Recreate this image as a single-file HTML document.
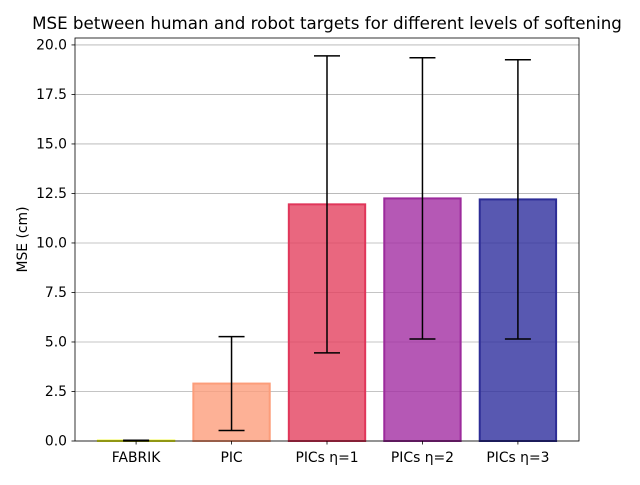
<!DOCTYPE html>
<html><head><meta charset="utf-8"><style>
body{margin:0;background:#fff;font-family:"Liberation Sans","DejaVu Sans",sans-serif}
svg text{font-family:"DejaVu Sans","Liberation Sans",sans-serif}
</style></head><body>
<svg id="c" width="640" height="480" xmlns="http://www.w3.org/2000/svg"></svg>
<script>
const categories=["FABRIK","PIC","PICs η=1","PICs η=2","PICs η=3"];
const means=[0.02,2.9,11.95,12.25,12.2];
const errors=[0.02,2.37,7.5,7.1,7.05];
const yTicks=[0,2.5,5,7.5,10,12.5,15,17.5,20];
const tickLabels=["0.0","2.5","5.0","7.5","10.0","12.5","15.0","17.5","20.0"];
const fills=["#f3f55a","#fd9d7c","#e3415f","#a22ea2","#2e2e9e"];
const edges=["#f0f921","#fc9d7a","#e0365a","#9c2a9c","#2d2d96"];
const L=75,R=579,T=38,B=441,xmin=-0.64,xmax=4.64,ymax=20.35;
const sx=v=>L+(v-xmin)/(xmax-xmin)*(R-L);
const sy=v=>B-v/ymax*(B-T);
const svg=document.getElementById('c');
const NS="http://www.w3.org/2000/svg";
function mk(t,a,p){const e=document.createElementNS(NS,t);for(const k in a)e.setAttribute(k,a[k]);(p||svg).appendChild(e);return e;}
yTicks.forEach((v,i)=>{
 const g=mk('line',{x1:L,x2:R,y1:sy(v),y2:sy(v),stroke:'#b0b0b0','stroke-width':0.8});
 
 
 mk('line',{x1:L-3.5,x2:L,y1:sy(v),y2:sy(v),stroke:'#000','stroke-width':0.8});
 const t=mk('text',{x:L-8,y:sy(v)+4.5,'text-anchor':'end','font-size':13.9});
 t.textContent=tickLabels[i];
 
 
});
categories.forEach((c,i)=>{
 const x0=sx(i-0.4),x1=sx(i+0.4);
 const r=mk('rect',{x:x0,y:sy(means[i]),width:x1-x0,height:B-sy(means[i]),fill:fills[i],'fill-opacity':0.8,stroke:edges[i],'stroke-width':2});
 
 
 const cx=sx(i),lo=sy(Math.max(0,means[i]-errors[i])),hi=sy(means[i]+errors[i]);
 const e=mk('g',{stroke:'#000','stroke-width':1.5});
 
 
 mk('line',{x1:cx,x2:cx,y1:lo,y2:hi},e);
 mk('line',{x1:cx-13,x2:cx+13,y1:lo,y2:lo},e);
 mk('line',{x1:cx-13,x2:cx+13,y1:hi,y2:hi},e);
 mk('line',{x1:cx,x2:cx,y1:B,y2:B+3.5,stroke:'#000','stroke-width':0.8});
 const t=mk('text',{x:cx,y:B+21,'text-anchor':'middle','font-size':13.9});
 t.textContent=c;
 
 
});
const f=mk('rect',{x:L,y:T,width:R-L,height:B-T,fill:'none',stroke:'#000','stroke-width':0.8});


const yl=mk('text',{x:0,y:0,transform:`translate(27,${(T+B)/2}) rotate(-90)`,'text-anchor':'middle','font-size':13.9});
yl.textContent='MSE (cm)';


const ti=mk('text',{x:327,y:29,'text-anchor':'middle','font-size':16.7});
ti.textContent='MSE between human and robot targets for different levels of softening';


</script>
</body></html>
